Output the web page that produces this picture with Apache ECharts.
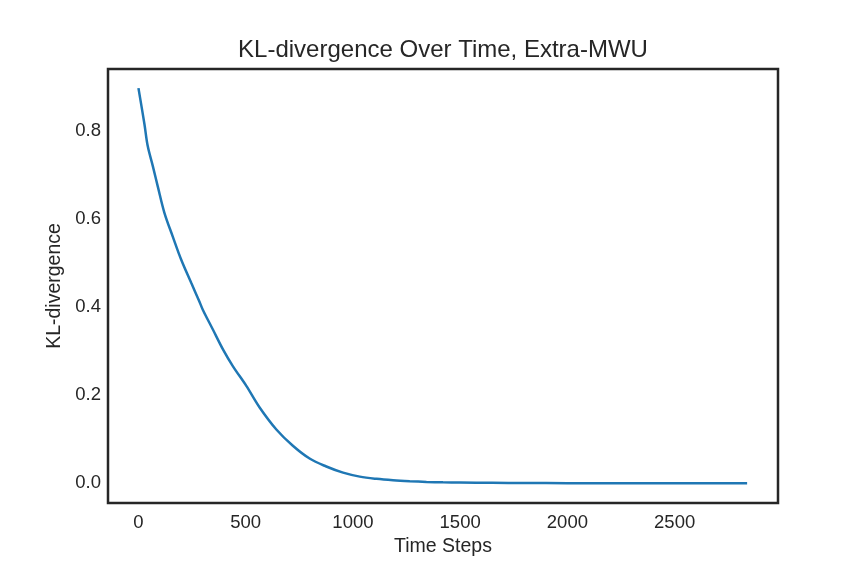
<!DOCTYPE html>
<html>
<head>
<meta charset="utf-8">
<script src="https://cdn.jsdelivr.net/npm/echarts@6/dist/echarts.min.js"></script>
<style>html,body{margin:0;padding:0;background:#fff}#c{width:864px;height:576px}</style>
</head>
<body>
<div id="c"></div>
<script>
const titleText = "KL-divergence Over Time, Extra-MWU";
const xName = "Time Steps";
const yName = "KL-divergence";
const timeSteps = [0, 28, 43, 67, 90, 121, 160, 199, 246, 282, 300, 347, 394, 440, 503, 565, 643, 720, 798, 876, 954, 1032, 1110, 1187, 1265, 1343, 1420, 1499, 1650, 1800, 2000, 2200, 2400, 2600, 2838];
const klValues = [0.897, 0.815, 0.766, 0.720, 0.674, 0.614, 0.560, 0.508, 0.455, 0.415, 0.394, 0.349, 0.304, 0.266, 0.221, 0.172, 0.122, 0.085, 0.056, 0.038, 0.024, 0.015, 0.010, 0.0068, 0.0046, 0.003, 0.002, 0.0015, 0.0008, 0.0004, 0.0002, 0.0001, 0.00005, 0.00003, 0.00002];
const xTicks = [0, 500, 1000, 1500, 2000, 2500];
const yTicks = [0.0, 0.2, 0.4, 0.6, 0.8];

const font = "'Liberation Sans', Arial, sans-serif";
const textColor = '#262626';
const chart = echarts.init(document.getElementById('c'), null, {renderer: 'canvas'});
chart.setOption({
  animation: false,
  backgroundColor: '#fff',
  title: {
    text: titleText, left: 438, top: 33, textAlign: 'center',
    textStyle: {fontFamily: font, fontSize: 24, fontWeight: 'normal', color: textColor}
  },
  grid: {left: 108, right: 86, top: 69, bottom: 73, show: true, borderColor: '#262626', borderWidth: 2.5, backgroundColor: 'transparent'},
  xAxis: {
    type: 'value', min: -142, max: 2982,
    name: xName, nameLocation: 'middle', nameGap: 33,
    nameTextStyle: {fontFamily: font, fontSize: 19.5, color: textColor},
    axisLine: {show: false}, axisTick: {show: false}, splitLine: {show: false},
    axisLabel: {customValues: xTicks, fontFamily: font, fontSize: 18.5, color: textColor, margin: 10, formatter: v => String(v)}
  },
  yAxis: {
    type: 'value', min: -0.0449, max: 0.9405,
    name: yName, nameLocation: 'middle', nameGap: 36,
    nameTextStyle: {fontFamily: font, fontSize: 19.5, color: textColor},
    axisLine: {show: false}, axisTick: {show: false}, splitLine: {show: false},
    axisLabel: {customValues: yTicks, fontFamily: font, fontSize: 18.5, color: textColor, margin: 7, formatter: v => v.toFixed(1)}
  },
  series: [{
    type: 'line', data: timeSteps.map((t, i) => [t, klValues[i]]),
    showSymbol: false, smooth: 0.35, lineStyle: {color: '#1f77b4', width: 2.5}, itemStyle: {color: '#1f77b4'}
  }]
});
</script>
</body>
</html>
